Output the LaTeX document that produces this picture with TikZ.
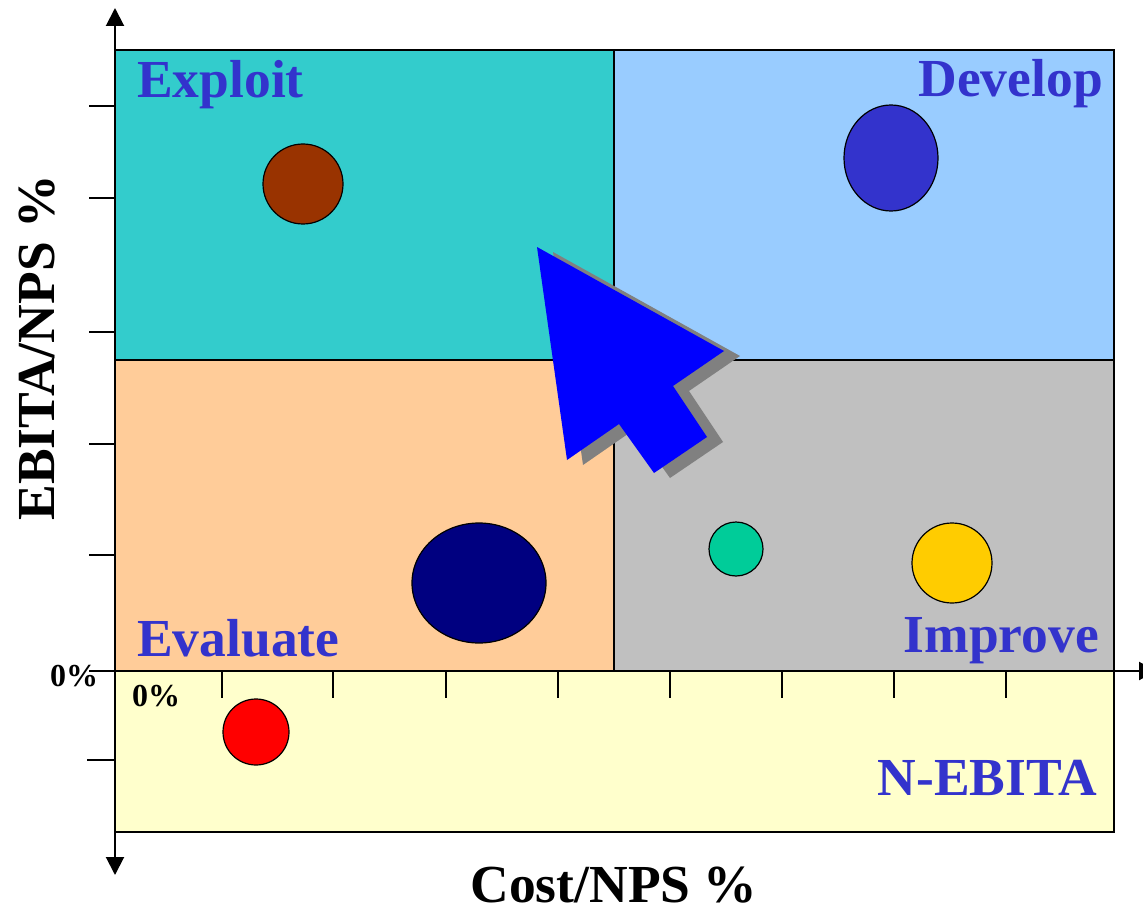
\documentclass[tikz,border=0pt]{standalone}
\usepackage{fontspec}
\setmainfont{Liberation Serif}
\usetikzlibrary{arrows.meta,shapes.geometric}
\definecolor{cExploit}{HTML}{33CCCC}
\definecolor{cDevelop}{HTML}{99CCFF}
\definecolor{cEvaluate}{HTML}{FFCC99}
\definecolor{cImprove}{HTML}{C0C0C0}
\definecolor{cNeb}{HTML}{FFFFCC}
\definecolor{cLabel}{HTML}{3333CC}
\definecolor{cBrown}{HTML}{993300}
\definecolor{cBlueDot}{HTML}{3333CC}
\definecolor{cNavy}{HTML}{000080}
\definecolor{cGreen}{HTML}{00CC99}
\definecolor{cYellow}{HTML}{FFCC00}
\definecolor{cRed}{HTML}{FF0000}
\definecolor{cCursor}{HTML}{0000FF}
\definecolor{cShadow}{HTML}{808080}
\tikzset{
  quad/.style={draw=black, line width=2.8pt},
  qlabel/.style={text=cLabel, font=\fontsize{53.5}{60}\selectfont\bfseries, inner sep=0pt},
  axlabel/.style={text=black, font=\fontsize{53.5}{60}\selectfont\bfseries, inner sep=0pt},
  zerolabel/.style={text=black, font=\fontsize{32}{36}\selectfont\bfseries, inner sep=0pt},
  axis/.style={line width=2pt, -{Triangle[length=18pt,width=18pt]}},
  tick/.style={line width=1.5pt},
  dot/.style={draw=black, line width=1.2pt, shape=ellipse, inner sep=0pt},
}
\begin{document}
\begin{tikzpicture}[x=1pt,y=-1pt]
\useasboundingbox (0,0) rectangle (1143,912);
\clip (0,0) rectangle (1143,912);
% quadrants
\filldraw[quad, fill=cExploit] (115,50) rectangle (614,360);
\filldraw[quad, fill=cDevelop] (614,50) rectangle (1114,360);
\filldraw[quad, fill=cEvaluate] (115,360) rectangle (614,671);
\filldraw[quad, fill=cImprove] (614,360) rectangle (1114,671);
\filldraw[quad, fill=cNeb] (115,671) rectangle (1114,832);
% axes
\coordinate (o) at (115,671);
\coordinate (ytop) at (115,8);
\coordinate (ybot) at (115,875);
\coordinate (xend) at (1157,671);
\draw[axis] (o) -- (ytop);
\draw[axis] (o) -- (ybot);
\draw[axis] (o) -- (xend);
% y ticks
\foreach \y in {106,198,332,444,555,671}{\draw[tick] (89,\y) -- (115,\y);}
\draw[tick] (87,760) -- (115,760);
% x ticks
\foreach \x in {222,333,446,558,670,782,894,1006}{\draw[tick] (\x,671) -- (\x,698);}
% dots
\node[dot, fill=cBrown, minimum width=80pt, minimum height=80pt] (brown) at (303,184) {};
\node[dot, fill=cBlueDot, minimum width=94pt, minimum height=106pt] (bluedot) at (891,158) {};
\node[dot, fill=cNavy, minimum width=134pt, minimum height=120pt] (navy) at (479,583) {};
\node[dot, fill=cGreen, minimum width=54pt, minimum height=54pt] (green) at (736,549) {};
\node[dot, fill=cYellow, minimum width=80pt, minimum height=80pt] (yellow) at (952,563) {};
\node[dot, fill=cRed, minimum width=66pt, minimum height=66pt] (red) at (256,732) {};
% cursor arrow with shadow
\fill[cShadow, shift={(16,5)}] (537,247) -- (724,351) -- (673,386) -- (707,437) -- (654,473) -- (619,424) -- (567,460) -- cycle;
\fill[cCursor] (537,247) -- (724,351) -- (673,386) -- (707,437) -- (654,473) -- (619,424) -- (567,460) -- cycle;
% quadrant labels
\node[qlabel, anchor=base west] (exploit) at (137,98) {Exploit};
\node[qlabel, anchor=base east] (develop) at (1103,97) {Develop};
\node[qlabel, anchor=base west] (evaluate) at (137,656) {Evaluate};
\node[qlabel, anchor=base east] (improve) at (1099,652) {Improve};
\node[qlabel, anchor=base east] (nebita) at (1097,795) {N-EBITA};
% axis labels
\node[axlabel, anchor=base] (xlabel) at (614,902) {Cost/NPS \%};
\node[axlabel, rotate=90, anchor=base] (ylabel) at (54,348) {EBITA/NPS \%};
\node[zerolabel, anchor=base west] (zy) at (50,686) {0\%};
\node[zerolabel, anchor=base west] (zx) at (132,706) {0\%};
\end{tikzpicture}
\end{document}
